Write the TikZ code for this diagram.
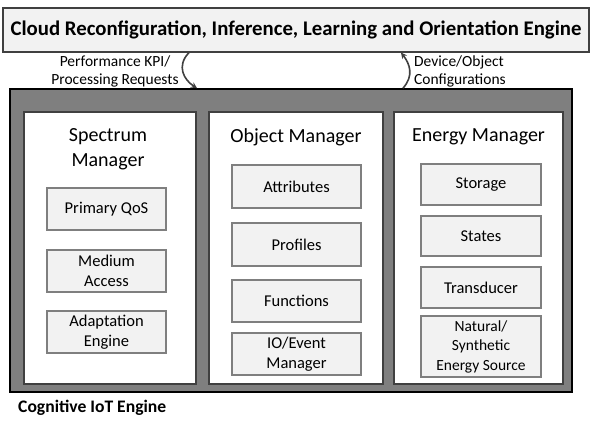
\documentclass[tikz,border=0pt]{standalone}
\usepackage{fontspec}
\setmainfont{Carlito}
\usetikzlibrary{arrows.meta}
\definecolor{lightfill}{HTML}{F2F2F2}
\definecolor{midgray}{HTML}{7F7F7F}
\definecolor{darkline}{HTML}{404040}
\begin{document}
\begin{tikzpicture}[x=1pt,y=-1pt,
  topbox/.style={draw=darkline,line width=1.2pt,fill=lightfill,rectangle,inner sep=0pt,
    font=\fontsize{20.8}{24}\selectfont\bfseries},
  outerbox/.style={draw=black,line width=1.8pt,fill=midgray,rectangle,inner sep=0pt},
  colbox/.style={draw=darkline,line width=1.2pt,fill=white,rectangle,inner sep=0pt},
  itembox/.style={draw=midgray,line width=1.1pt,fill=lightfill,rectangle,inner sep=0pt,
    align=center,font=\fontsize{16.5}{19.5}\selectfont},
  heading/.style={align=center,font=\fontsize{20}{25}\selectfont,inner sep=0pt},
  lbl/.style={font=\fontsize{15.5}{18}\selectfont,inner sep=0pt},
  conn/.style={draw=darkline,line width=1.6pt,-{Stealth[length=6pt,width=6pt]}}]
\useasboundingbox (0,0) rectangle (592,423);
% top
\node[topbox,minimum width=586pt,minimum height=44pt] (cloud) at (296,30) {Cloud Reconfiguration, Inference, Learning and Orientation Engine};
% outer
\node[outerbox,minimum width=562pt,minimum height=303pt] (cie) at (291,240.5) {};
\node[anchor=west,inner sep=0pt,font=\fontsize{17.6}{20}\selectfont\bfseries] (cielbl) at (18,408) {Cognitive IoT Engine};
% columns
\node[colbox,minimum width=172pt,minimum height=272pt] (spec) at (110,248) {};
\node[colbox,minimum width=174pt,minimum height=272pt] (obj) at (296,248) {};
\node[colbox,minimum width=169pt,minimum height=272pt] (energy) at (478.5,248) {};
\node[heading] (spech) at (108,149.5) {Spectrum\\Manager};
\node[heading] (objh) at (296,137) {Object Manager};
\node[heading] (energyh) at (478.5,137) {Energy Manager};
% spectrum items
\node[itembox,minimum width=119pt,minimum height=42pt] (qos) at (106.5,209) {Primary QoS};
\node[itembox,minimum width=119pt,minimum height=42pt] (mac) at (106.5,271) {Medium\\Access};
\node[itembox,minimum width=119pt,minimum height=42pt] (adapt) at (106.5,332) {Adaptation\\Engine};
% object items
\node[itembox,minimum width=129pt,minimum height=43pt] (attr) at (296.5,186.5) {Attributes};
\node[itembox,minimum width=129pt,minimum height=43pt] (prof) at (296.5,244.5) {Profiles};
\node[itembox,minimum width=129pt,minimum height=42pt] (func) at (296.5,301) {Functions};
\node[itembox,minimum width=129pt,minimum height=42pt] (io) at (296.5,354) {IO/Event\\Manager};
% energy items
\node[itembox,minimum width=120pt,minimum height=41pt] (stor) at (481,184.5) {Storage};
\node[itembox,minimum width=120pt,minimum height=40pt] (states) at (481,236) {States};
\node[itembox,minimum width=120pt,minimum height=41pt] (trans) at (481,287.5) {Transducer};
\node[itembox,minimum width=120pt,minimum height=61pt,font=\fontsize{15.5}{19.5}\selectfont] (nat) at (481,346.5) {Natural/\\Synthetic\\Energy Source};
% connectors
\coordinate (a1) at (cloud.south -| 189,0);
\coordinate (a2) at (cie.north -| 197,0);
\coordinate (b1) at (cie.north -| 403,0);
\coordinate (b2) at (cloud.south -| 401,0);
\draw[conn] (a1) .. controls (176,66) and (184,80) .. (a2);
\draw[conn] (b1) .. controls (414,76) and (410,64) .. (b2);
\node[lbl,align=center] (kpi) at (115,71) {Performance KPI/\\Processing Requests};
\node[lbl,align=left,anchor=west] (conf) at (414,71) {Device/Object\\Configurations};
\end{tikzpicture}
\end{document}
